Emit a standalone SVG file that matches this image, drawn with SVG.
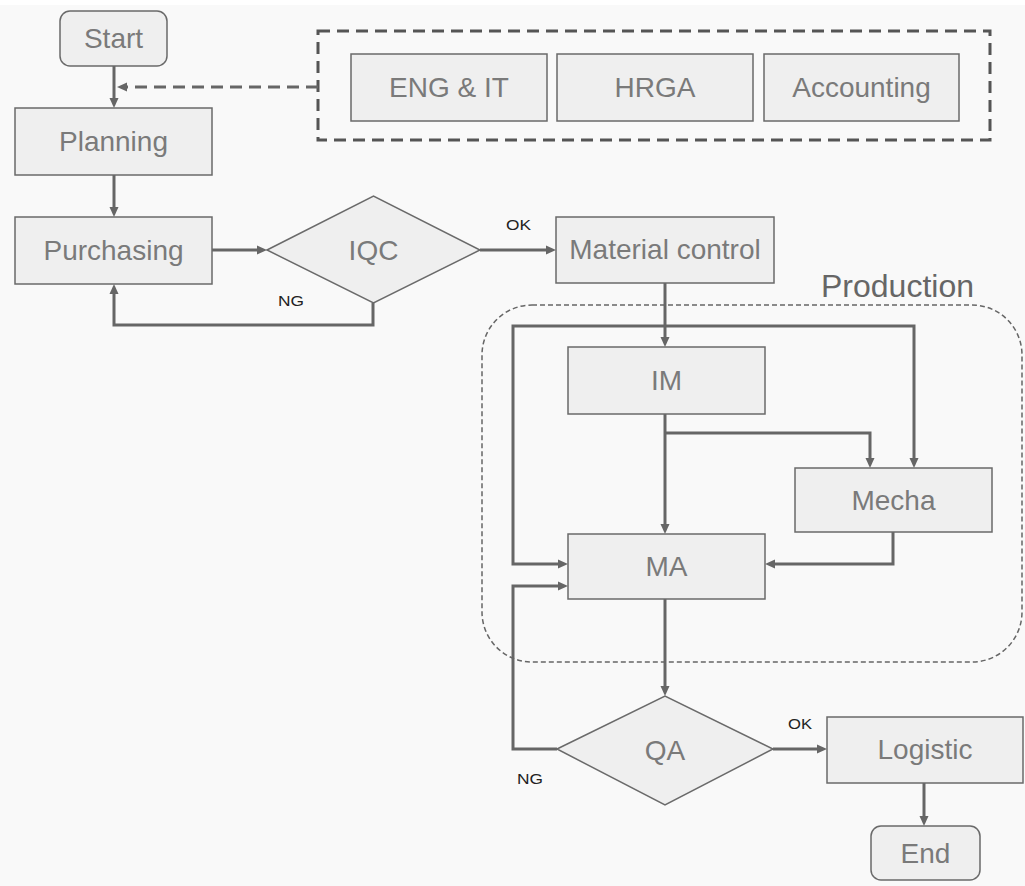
<svg xmlns="http://www.w3.org/2000/svg" width="1025" height="886" viewBox="0 0 1025 886">
<defs>
<marker id="ah" viewBox="0 0 10 10" refX="4" refY="5" markerWidth="10" markerHeight="10" markerUnits="userSpaceOnUse" orient="auto"><path d="M0,0.5 L10,5 L0,9.5 z" fill="#666"/></marker>
<style>
.box{fill:#efefef;stroke:#6a6a6a;stroke-width:1.5}
.lbl{font-family:"Liberation Sans",Arial,sans-serif;font-size:28px;fill:#7a7a7a;text-anchor:middle}
.small{font-family:"Liberation Sans",Arial,sans-serif;font-size:14px;fill:#222}
.conn{fill:none;stroke:#666;stroke-width:3;marker-end:url(#ah)}
</style>
</defs>
<rect x="0" y="0" width="1025" height="886" fill="#f9f9f9"/>
<rect x="0" y="0" width="1025" height="5" fill="#ffffff"/>

<g id="support-group">
<rect x="318" y="31" width="672" height="109" fill="none" stroke="#555" stroke-width="3" stroke-dasharray="12 7"/>
</g>
<g id="production-group">
<rect x="482" y="305" width="540" height="357" rx="50" fill="none" stroke="#666" stroke-width="1.5" stroke-dasharray="5 3"/>
<text x="821" y="297" font-family="Liberation Sans, Arial, sans-serif" font-size="31" fill="#666" textLength="153" lengthAdjust="spacingAndGlyphs">Production</text>
</g>

<g id="connectors">
<path class="conn" d="M114,66 V102"/>
<path class="conn" d="M318,87 H123" stroke-dasharray="12 7"/>
<path class="conn" d="M114,175 V211"/>
<path class="conn" d="M212,250 H261"/>
<path class="conn" d="M373,303 V325 H114 V290"/>
<path class="conn" d="M480,250 H550"/>
<path class="conn" d="M665,283 V341"/>
<path class="conn" d="M665,326 H513 V564 H562"/>
<path class="conn" d="M665,326 H914 V462"/>
<path class="conn" d="M665,414 V528"/>
<path class="conn" d="M665,433 H870 V462"/>
<path class="conn" d="M893,532 V564 H771"/>
<path class="conn" d="M665,599 V690"/>
<path class="conn" d="M557,749 H513 V586 H562"/>
<path class="conn" d="M773,749 H821"/>
<path class="conn" d="M924,783 V820"/>
<text class="small" x="278" y="306" textLength="26" lengthAdjust="spacingAndGlyphs">NG</text>
<text class="small" x="506" y="230" textLength="25" lengthAdjust="spacingAndGlyphs">OK</text>
<text class="small" x="788" y="729" textLength="24" lengthAdjust="spacingAndGlyphs">OK</text>
<text class="small" x="517" y="784" textLength="26" lengthAdjust="spacingAndGlyphs">NG</text>
</g>

<g id="start"><rect class="box" x="60" y="11" width="107" height="55" rx="10"/><text class="lbl" x="113.5" y="48">Start</text></g>
<g id="planning"><rect class="box" x="15" y="108" width="197" height="67"/><text class="lbl" x="113.5" y="151">Planning</text></g>
<g id="purchasing"><rect class="box" x="15" y="217" width="197" height="67"/><text class="lbl" x="113.5" y="260">Purchasing</text></g>
<g id="iqc"><polygon class="box" points="267,250 373.5,196 480,250 373.5,303"/><text class="lbl" x="373.5" y="260">IQC</text></g>
<g id="eng-it"><rect class="box" x="351" y="54" width="196" height="67"/><text class="lbl" x="449" y="97">ENG &amp; IT</text></g>
<g id="hrga"><rect class="box" x="557" y="54" width="196" height="67"/><text class="lbl" x="655" y="97">HRGA</text></g>
<g id="accounting"><rect class="box" x="764" y="54" width="195" height="67"/><text class="lbl" x="861.5" y="97">Accounting</text></g>
<g id="material-control"><rect class="box" x="556" y="217" width="218" height="66"/><text class="lbl" x="665" y="259">Material control</text></g>
<g id="im"><rect class="box" x="568" y="347" width="197" height="67"/><text class="lbl" x="666.5" y="390">IM</text></g>
<g id="mecha"><rect class="box" x="795" y="468" width="197" height="64"/><text class="lbl" x="893.5" y="510">Mecha</text></g>
<g id="ma"><rect class="box" x="568" y="534" width="197" height="65"/><text class="lbl" x="666.5" y="576">MA</text></g>
<g id="qa"><polygon class="box" points="557,749 665,696 773,749 665,805"/><text class="lbl" x="665" y="760">QA</text></g>
<g id="logistic"><rect class="box" x="827" y="717" width="196" height="66"/><text class="lbl" x="925" y="759">Logistic</text></g>
<g id="end"><rect class="box" x="871" y="826" width="109" height="54" rx="10"/><text class="lbl" x="925.5" y="863">End</text></g>
</svg>
